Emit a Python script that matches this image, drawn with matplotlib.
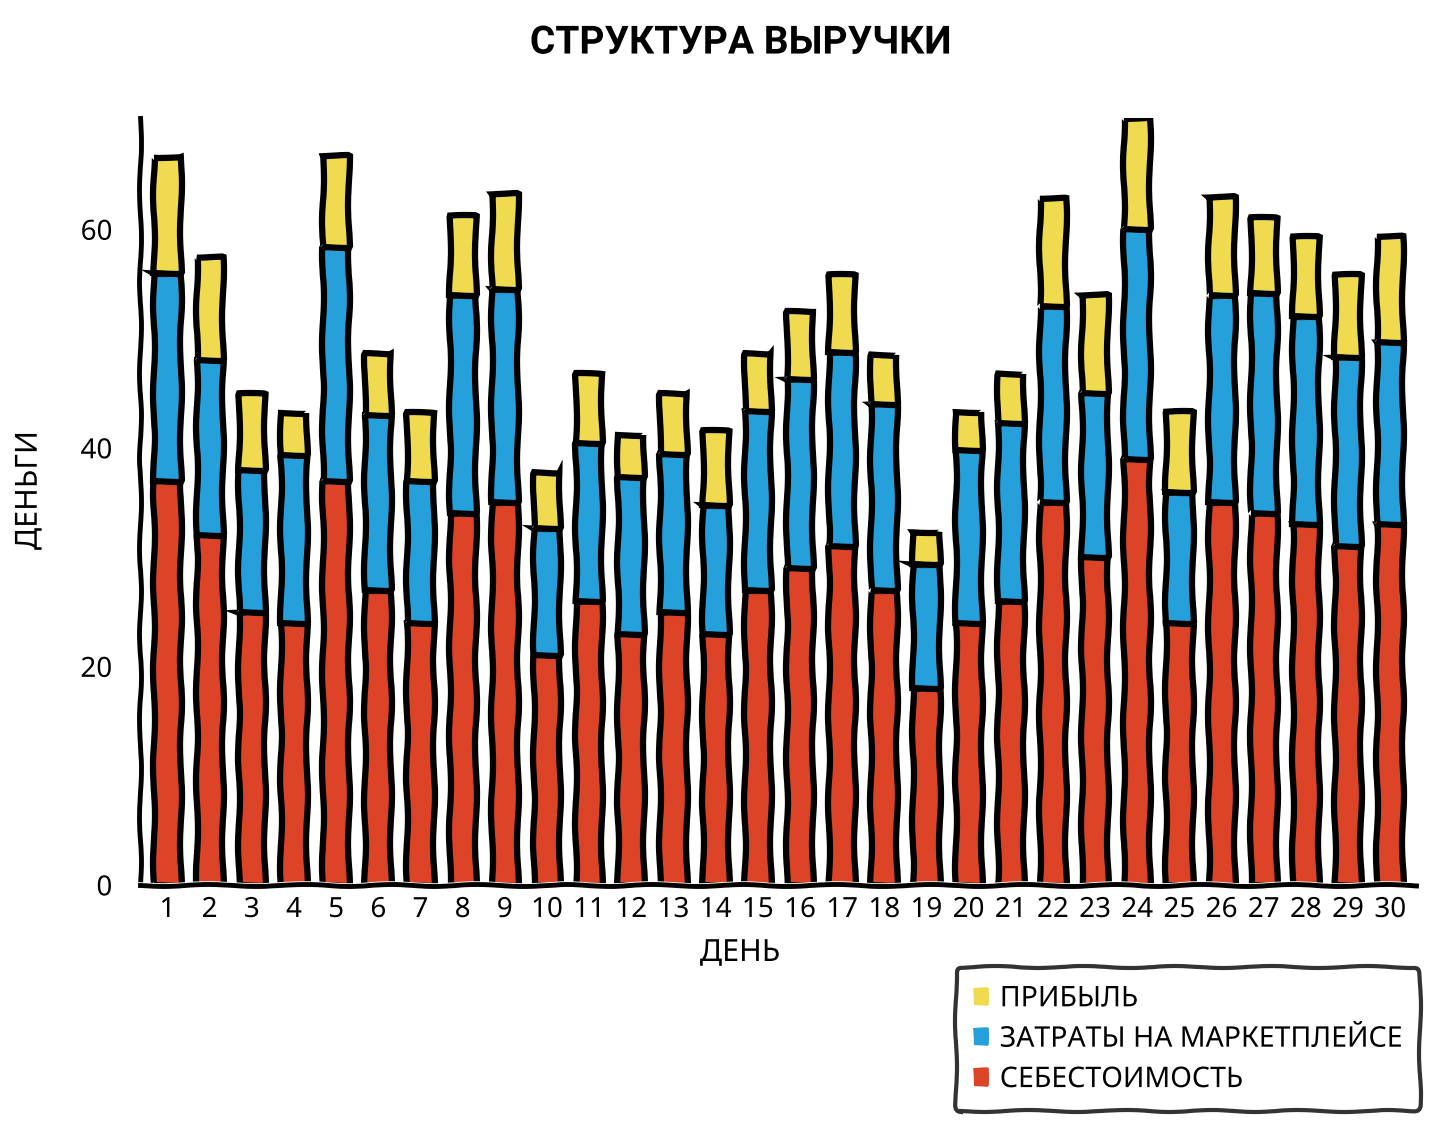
import matplotlib
matplotlib.use("Agg")
import matplotlib.pyplot as plt
import numpy as np

days = list(range(1, 31))
cost = [37, 32, 25, 24, 37, 27, 24, 34, 35, 21, 26, 23, 25, 23, 27,
        29, 31, 27, 18, 24, 26, 35, 30, 39, 24, 35, 34, 33, 31, 33]
marketplace = [19, 16, 13, 15.3, 21.4, 16, 13, 20, 19.5, 11.7, 14.4, 14.3, 14.4, 11.8, 16.4,
               17.3, 17.8, 17, 11.4, 15.8, 16.3, 18, 15, 21, 12, 19, 20.2, 19.1, 17.3, 16.7]
profit = [10.6, 9.5, 6.9, 3.9, 8.3, 5.6, 6.2, 7.2, 8.7, 5, 6.4, 3.9, 5.5, 6.7, 5.2,
          6.1, 7, 4.5, 2.9, 3.5, 4.5, 9.9, 9, 10.2, 7.3, 9, 6.8, 7.2, 7.5, 9.7]

labels = ["СЕБЕСТОИМОСТЬ", "ЗАТРАТЫ НА МАРКЕТПЛЕЙСЕ", "ПРИБЫЛЬ"]
colors = ["#DC4327", "#26A0DA", "#F0DA50"]

plt.xkcd()
plt.rcParams['font.family'] = ['Noto Sans', 'DejaVu Sans']

fig = plt.figure(figsize=(14.38, 11.33), dpi=100)
ax = fig.add_axes([0.0974, 0.219, 0.887, 0.677])

cost_a = np.array(cost)
mk_a = np.array(marketplace)
pr_a = np.array(profit)

lw = 4.5
b1 = ax.bar(days, cost_a, width=0.62, color=colors[0], edgecolor='black', linewidth=lw, label=labels[0])
b2 = ax.bar(days, mk_a, width=0.62, bottom=cost_a, color=colors[1], edgecolor='black', linewidth=lw, label=labels[1])
b3 = ax.bar(days, pr_a, width=0.62, bottom=cost_a + mk_a, color=colors[2], edgecolor='black', linewidth=lw, label=labels[2])

ax.set_xlim(0.35, 30.6)
ax.set_ylim(0, 70.2)
ax.set_xticks(days)
ax.set_xticklabels([str(d) for d in days], fontsize=20)
ax.set_yticks([0, 20, 40, 60])
ax.set_yticklabels(["0", "20", "40", "60"], fontsize=20)
ax.tick_params(axis='x', length=0, pad=8)
ax.tick_params(axis='y', length=0, pad=20)
ax.spines['top'].set_visible(False)
ax.spines['right'].set_visible(False)
ax.spines['left'].set_linewidth(3.5)
ax.spines['bottom'].set_linewidth(3.5)

fig.text(740 / 1438, 1 - 953 / 1133, "ДЕНЬ", fontsize=22, ha='center', va='center')
fig.text(0.02, 0.567, "ДЕНЬГИ", rotation=90, fontsize=22, ha='center', va='center')
fig.text(0.515, 0.962, "СТРУКТУРА ВЫРУЧКИ", fontsize=28, fontweight='bold',
         family=['Roboto', 'DejaVu Sans'], ha='center', va='center')

handles = [b3, b2, b1]
leg = fig.legend(handles, [labels[2], labels[1], labels[0]], loc='upper right',
                 bbox_to_anchor=(1434 / 1438, 1 - 953 / 1133), fontsize=20.5,
                 handlelength=0.55, handleheight=0.55, handletextpad=0.4,
                 borderpad=0.6, labelspacing=0.4, frameon=True, fancybox=True)
leg.get_frame().set_edgecolor('black')
leg.get_frame().set_linewidth(3)
for h in leg.legend_handles:
    h.set_linewidth(0)

fig.savefig("out.png", dpi=100)
